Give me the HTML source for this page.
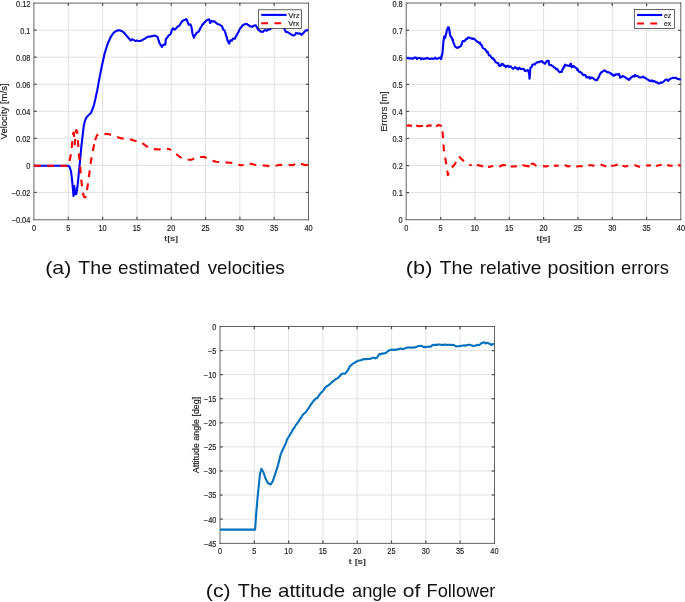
<!DOCTYPE html>
<html><head><meta charset="utf-8"><style>
html,body{margin:0;padding:0;background:#fff;width:685px;height:602px;overflow:hidden}
svg{display:block}
text{font-family:"Liberation Sans",sans-serif}
svg{will-change:transform}
.s{stroke:#1a1a1a;stroke-width:0.16px}
</style></head><body>
<svg width="685" height="602" viewBox="0 0 685 602">
<rect width="685" height="602" fill="#fff"/>
<line x1="68.31" y1="3.10" x2="68.31" y2="219.50" stroke="#e2e2e2" stroke-width="1" />
<line x1="102.62" y1="3.10" x2="102.62" y2="219.50" stroke="#e2e2e2" stroke-width="1" />
<line x1="136.94" y1="3.10" x2="136.94" y2="219.50" stroke="#e2e2e2" stroke-width="1" />
<line x1="171.25" y1="3.10" x2="171.25" y2="219.50" stroke="#e2e2e2" stroke-width="1" />
<line x1="205.56" y1="3.10" x2="205.56" y2="219.50" stroke="#e2e2e2" stroke-width="1" />
<line x1="239.88" y1="3.10" x2="239.88" y2="219.50" stroke="#e2e2e2" stroke-width="1" />
<line x1="274.19" y1="3.10" x2="274.19" y2="219.50" stroke="#e2e2e2" stroke-width="1" />
<line x1="34.00" y1="30.15" x2="308.50" y2="30.15" stroke="#e2e2e2" stroke-width="1" />
<line x1="34.00" y1="57.20" x2="308.50" y2="57.20" stroke="#e2e2e2" stroke-width="1" />
<line x1="34.00" y1="84.25" x2="308.50" y2="84.25" stroke="#e2e2e2" stroke-width="1" />
<line x1="34.00" y1="111.30" x2="308.50" y2="111.30" stroke="#e2e2e2" stroke-width="1" />
<line x1="34.00" y1="138.35" x2="308.50" y2="138.35" stroke="#e2e2e2" stroke-width="1" />
<line x1="34.00" y1="165.40" x2="308.50" y2="165.40" stroke="#e2e2e2" stroke-width="1" />
<line x1="34.00" y1="192.45" x2="308.50" y2="192.45" stroke="#e2e2e2" stroke-width="1" />
<line x1="440.62" y1="3.30" x2="440.62" y2="219.60" stroke="#e2e2e2" stroke-width="1" />
<line x1="474.95" y1="3.30" x2="474.95" y2="219.60" stroke="#e2e2e2" stroke-width="1" />
<line x1="509.27" y1="3.30" x2="509.27" y2="219.60" stroke="#e2e2e2" stroke-width="1" />
<line x1="543.60" y1="3.30" x2="543.60" y2="219.60" stroke="#e2e2e2" stroke-width="1" />
<line x1="577.92" y1="3.30" x2="577.92" y2="219.60" stroke="#e2e2e2" stroke-width="1" />
<line x1="612.25" y1="3.30" x2="612.25" y2="219.60" stroke="#e2e2e2" stroke-width="1" />
<line x1="646.57" y1="3.30" x2="646.57" y2="219.60" stroke="#e2e2e2" stroke-width="1" />
<line x1="406.30" y1="30.34" x2="680.90" y2="30.34" stroke="#e2e2e2" stroke-width="1" />
<line x1="406.30" y1="57.37" x2="680.90" y2="57.37" stroke="#e2e2e2" stroke-width="1" />
<line x1="406.30" y1="84.41" x2="680.90" y2="84.41" stroke="#e2e2e2" stroke-width="1" />
<line x1="406.30" y1="111.45" x2="680.90" y2="111.45" stroke="#e2e2e2" stroke-width="1" />
<line x1="406.30" y1="138.49" x2="680.90" y2="138.49" stroke="#e2e2e2" stroke-width="1" />
<line x1="406.30" y1="165.53" x2="680.90" y2="165.53" stroke="#e2e2e2" stroke-width="1" />
<line x1="406.30" y1="192.56" x2="680.90" y2="192.56" stroke="#e2e2e2" stroke-width="1" />
<line x1="254.30" y1="326.50" x2="254.30" y2="543.20" stroke="#e2e2e2" stroke-width="1" />
<line x1="288.60" y1="326.50" x2="288.60" y2="543.20" stroke="#e2e2e2" stroke-width="1" />
<line x1="322.90" y1="326.50" x2="322.90" y2="543.20" stroke="#e2e2e2" stroke-width="1" />
<line x1="357.20" y1="326.50" x2="357.20" y2="543.20" stroke="#e2e2e2" stroke-width="1" />
<line x1="391.50" y1="326.50" x2="391.50" y2="543.20" stroke="#e2e2e2" stroke-width="1" />
<line x1="425.80" y1="326.50" x2="425.80" y2="543.20" stroke="#e2e2e2" stroke-width="1" />
<line x1="460.10" y1="326.50" x2="460.10" y2="543.20" stroke="#e2e2e2" stroke-width="1" />
<line x1="220.00" y1="350.58" x2="494.40" y2="350.58" stroke="#e2e2e2" stroke-width="1" />
<line x1="220.00" y1="374.66" x2="494.40" y2="374.66" stroke="#e2e2e2" stroke-width="1" />
<line x1="220.00" y1="398.73" x2="494.40" y2="398.73" stroke="#e2e2e2" stroke-width="1" />
<line x1="220.00" y1="422.81" x2="494.40" y2="422.81" stroke="#e2e2e2" stroke-width="1" />
<line x1="220.00" y1="446.89" x2="494.40" y2="446.89" stroke="#e2e2e2" stroke-width="1" />
<line x1="220.00" y1="470.97" x2="494.40" y2="470.97" stroke="#e2e2e2" stroke-width="1" />
<line x1="220.00" y1="495.04" x2="494.40" y2="495.04" stroke="#e2e2e2" stroke-width="1" />
<line x1="220.00" y1="519.12" x2="494.40" y2="519.12" stroke="#e2e2e2" stroke-width="1" />
<path d="M33.90,2.60V220.30M308.45,2.60V220.30M33.40,3.10H308.95M33.40,219.80H308.95" fill="none" stroke="#262626" stroke-width="0.72"/>
<line x1="68.31" y1="219.50" x2="68.31" y2="216.80" stroke="#4a4a4a" stroke-width="1.2" />
<line x1="68.31" y1="3.10" x2="68.31" y2="5.80" stroke="#4a4a4a" stroke-width="1.2" />
<line x1="102.62" y1="219.50" x2="102.62" y2="216.80" stroke="#4a4a4a" stroke-width="1.2" />
<line x1="102.62" y1="3.10" x2="102.62" y2="5.80" stroke="#4a4a4a" stroke-width="1.2" />
<line x1="136.94" y1="219.50" x2="136.94" y2="216.80" stroke="#4a4a4a" stroke-width="1.2" />
<line x1="136.94" y1="3.10" x2="136.94" y2="5.80" stroke="#4a4a4a" stroke-width="1.2" />
<line x1="171.25" y1="219.50" x2="171.25" y2="216.80" stroke="#4a4a4a" stroke-width="1.2" />
<line x1="171.25" y1="3.10" x2="171.25" y2="5.80" stroke="#4a4a4a" stroke-width="1.2" />
<line x1="205.56" y1="219.50" x2="205.56" y2="216.80" stroke="#4a4a4a" stroke-width="1.2" />
<line x1="205.56" y1="3.10" x2="205.56" y2="5.80" stroke="#4a4a4a" stroke-width="1.2" />
<line x1="239.88" y1="219.50" x2="239.88" y2="216.80" stroke="#4a4a4a" stroke-width="1.2" />
<line x1="239.88" y1="3.10" x2="239.88" y2="5.80" stroke="#4a4a4a" stroke-width="1.2" />
<line x1="274.19" y1="219.50" x2="274.19" y2="216.80" stroke="#4a4a4a" stroke-width="1.2" />
<line x1="274.19" y1="3.10" x2="274.19" y2="5.80" stroke="#4a4a4a" stroke-width="1.2" />
<line x1="34.00" y1="30.15" x2="36.70" y2="30.15" stroke="#4a4a4a" stroke-width="1.2" />
<line x1="308.50" y1="30.15" x2="305.80" y2="30.15" stroke="#4a4a4a" stroke-width="1.2" />
<line x1="34.00" y1="57.20" x2="36.70" y2="57.20" stroke="#4a4a4a" stroke-width="1.2" />
<line x1="308.50" y1="57.20" x2="305.80" y2="57.20" stroke="#4a4a4a" stroke-width="1.2" />
<line x1="34.00" y1="84.25" x2="36.70" y2="84.25" stroke="#4a4a4a" stroke-width="1.2" />
<line x1="308.50" y1="84.25" x2="305.80" y2="84.25" stroke="#4a4a4a" stroke-width="1.2" />
<line x1="34.00" y1="111.30" x2="36.70" y2="111.30" stroke="#4a4a4a" stroke-width="1.2" />
<line x1="308.50" y1="111.30" x2="305.80" y2="111.30" stroke="#4a4a4a" stroke-width="1.2" />
<line x1="34.00" y1="138.35" x2="36.70" y2="138.35" stroke="#4a4a4a" stroke-width="1.2" />
<line x1="308.50" y1="138.35" x2="305.80" y2="138.35" stroke="#4a4a4a" stroke-width="1.2" />
<line x1="34.00" y1="165.40" x2="36.70" y2="165.40" stroke="#4a4a4a" stroke-width="1.2" />
<line x1="308.50" y1="165.40" x2="305.80" y2="165.40" stroke="#4a4a4a" stroke-width="1.2" />
<line x1="34.00" y1="192.45" x2="36.70" y2="192.45" stroke="#4a4a4a" stroke-width="1.2" />
<line x1="308.50" y1="192.45" x2="305.80" y2="192.45" stroke="#4a4a4a" stroke-width="1.2" />
<text x="16.11" y="6.52" font-size="8.20" fill="#1a1a1a" textLength="14.36" lengthAdjust="spacingAndGlyphs" class="s">0.12</text>
<text x="20.19" y="33.57" font-size="8.20" fill="#1a1a1a" textLength="10.26" lengthAdjust="spacingAndGlyphs" class="s">0.1</text>
<text x="16.06" y="60.62" font-size="8.20" fill="#1a1a1a" textLength="14.36" lengthAdjust="spacingAndGlyphs" class="s">0.08</text>
<text x="16.06" y="87.67" font-size="8.20" fill="#1a1a1a" textLength="14.36" lengthAdjust="spacingAndGlyphs" class="s">0.06</text>
<text x="15.95" y="114.72" font-size="8.20" fill="#1a1a1a" textLength="14.36" lengthAdjust="spacingAndGlyphs" class="s">0.04</text>
<text x="16.11" y="141.77" font-size="8.20" fill="#1a1a1a" textLength="14.36" lengthAdjust="spacingAndGlyphs" class="s">0.02</text>
<text x="26.28" y="168.82" font-size="8.20" fill="#1a1a1a" textLength="4.10" lengthAdjust="spacingAndGlyphs" class="s">0</text>
<text x="11.80" y="195.87" font-size="8.20" fill="#1a1a1a" textLength="18.67" lengthAdjust="spacingAndGlyphs" class="s">−0.02</text>
<text x="11.63" y="222.92" font-size="8.20" fill="#1a1a1a" textLength="18.67" lengthAdjust="spacingAndGlyphs" class="s">−0.04</text>
<text x="31.94" y="230.87" font-size="8.20" fill="#1a1a1a" textLength="4.10" lengthAdjust="spacingAndGlyphs" class="s">0</text>
<text x="66.26" y="230.83" font-size="8.20" fill="#1a1a1a" textLength="4.10" lengthAdjust="spacingAndGlyphs" class="s">5</text>
<text x="98.39" y="230.87" font-size="8.20" fill="#1a1a1a" textLength="8.21" lengthAdjust="spacingAndGlyphs" class="s">10</text>
<text x="132.71" y="230.83" font-size="8.20" fill="#1a1a1a" textLength="8.21" lengthAdjust="spacingAndGlyphs" class="s">15</text>
<text x="167.11" y="230.87" font-size="8.20" fill="#1a1a1a" textLength="8.21" lengthAdjust="spacingAndGlyphs" class="s">20</text>
<text x="201.43" y="230.87" font-size="8.20" fill="#1a1a1a" textLength="8.21" lengthAdjust="spacingAndGlyphs" class="s">25</text>
<text x="235.78" y="230.87" font-size="8.20" fill="#1a1a1a" textLength="8.21" lengthAdjust="spacingAndGlyphs" class="s">30</text>
<text x="270.10" y="230.87" font-size="8.20" fill="#1a1a1a" textLength="8.21" lengthAdjust="spacingAndGlyphs" class="s">35</text>
<text x="304.46" y="230.87" font-size="8.20" fill="#1a1a1a" textLength="8.21" lengthAdjust="spacingAndGlyphs" class="s">40</text>
<path d="M406.20,2.50V220.20M680.80,2.50V220.20M405.70,3.00H681.30M405.70,219.70H681.30" fill="none" stroke="#262626" stroke-width="0.72"/>
<line x1="440.62" y1="219.60" x2="440.62" y2="216.90" stroke="#4a4a4a" stroke-width="1.2" />
<line x1="440.62" y1="3.30" x2="440.62" y2="6.00" stroke="#4a4a4a" stroke-width="1.2" />
<line x1="474.95" y1="219.60" x2="474.95" y2="216.90" stroke="#4a4a4a" stroke-width="1.2" />
<line x1="474.95" y1="3.30" x2="474.95" y2="6.00" stroke="#4a4a4a" stroke-width="1.2" />
<line x1="509.27" y1="219.60" x2="509.27" y2="216.90" stroke="#4a4a4a" stroke-width="1.2" />
<line x1="509.27" y1="3.30" x2="509.27" y2="6.00" stroke="#4a4a4a" stroke-width="1.2" />
<line x1="543.60" y1="219.60" x2="543.60" y2="216.90" stroke="#4a4a4a" stroke-width="1.2" />
<line x1="543.60" y1="3.30" x2="543.60" y2="6.00" stroke="#4a4a4a" stroke-width="1.2" />
<line x1="577.92" y1="219.60" x2="577.92" y2="216.90" stroke="#4a4a4a" stroke-width="1.2" />
<line x1="577.92" y1="3.30" x2="577.92" y2="6.00" stroke="#4a4a4a" stroke-width="1.2" />
<line x1="612.25" y1="219.60" x2="612.25" y2="216.90" stroke="#4a4a4a" stroke-width="1.2" />
<line x1="612.25" y1="3.30" x2="612.25" y2="6.00" stroke="#4a4a4a" stroke-width="1.2" />
<line x1="646.57" y1="219.60" x2="646.57" y2="216.90" stroke="#4a4a4a" stroke-width="1.2" />
<line x1="646.57" y1="3.30" x2="646.57" y2="6.00" stroke="#4a4a4a" stroke-width="1.2" />
<line x1="406.30" y1="30.34" x2="409.00" y2="30.34" stroke="#4a4a4a" stroke-width="1.2" />
<line x1="680.90" y1="30.34" x2="678.20" y2="30.34" stroke="#4a4a4a" stroke-width="1.2" />
<line x1="406.30" y1="57.37" x2="409.00" y2="57.37" stroke="#4a4a4a" stroke-width="1.2" />
<line x1="680.90" y1="57.37" x2="678.20" y2="57.37" stroke="#4a4a4a" stroke-width="1.2" />
<line x1="406.30" y1="84.41" x2="409.00" y2="84.41" stroke="#4a4a4a" stroke-width="1.2" />
<line x1="680.90" y1="84.41" x2="678.20" y2="84.41" stroke="#4a4a4a" stroke-width="1.2" />
<line x1="406.30" y1="111.45" x2="409.00" y2="111.45" stroke="#4a4a4a" stroke-width="1.2" />
<line x1="680.90" y1="111.45" x2="678.20" y2="111.45" stroke="#4a4a4a" stroke-width="1.2" />
<line x1="406.30" y1="138.49" x2="409.00" y2="138.49" stroke="#4a4a4a" stroke-width="1.2" />
<line x1="680.90" y1="138.49" x2="678.20" y2="138.49" stroke="#4a4a4a" stroke-width="1.2" />
<line x1="406.30" y1="165.53" x2="409.00" y2="165.53" stroke="#4a4a4a" stroke-width="1.2" />
<line x1="680.90" y1="165.53" x2="678.20" y2="165.53" stroke="#4a4a4a" stroke-width="1.2" />
<line x1="406.30" y1="192.56" x2="409.00" y2="192.56" stroke="#4a4a4a" stroke-width="1.2" />
<line x1="680.90" y1="192.56" x2="678.20" y2="192.56" stroke="#4a4a4a" stroke-width="1.2" />
<text x="392.46" y="6.72" font-size="8.20" fill="#1a1a1a" textLength="10.26" lengthAdjust="spacingAndGlyphs" class="s">0.8</text>
<text x="392.51" y="33.76" font-size="8.20" fill="#1a1a1a" textLength="10.26" lengthAdjust="spacingAndGlyphs" class="s">0.7</text>
<text x="392.46" y="60.79" font-size="8.20" fill="#1a1a1a" textLength="10.26" lengthAdjust="spacingAndGlyphs" class="s">0.6</text>
<text x="392.44" y="87.83" font-size="8.20" fill="#1a1a1a" textLength="10.26" lengthAdjust="spacingAndGlyphs" class="s">0.5</text>
<text x="392.34" y="114.87" font-size="8.20" fill="#1a1a1a" textLength="10.26" lengthAdjust="spacingAndGlyphs" class="s">0.4</text>
<text x="392.46" y="141.91" font-size="8.20" fill="#1a1a1a" textLength="10.26" lengthAdjust="spacingAndGlyphs" class="s">0.3</text>
<text x="392.51" y="168.94" font-size="8.20" fill="#1a1a1a" textLength="10.26" lengthAdjust="spacingAndGlyphs" class="s">0.2</text>
<text x="392.49" y="195.98" font-size="8.20" fill="#1a1a1a" textLength="10.26" lengthAdjust="spacingAndGlyphs" class="s">0.1</text>
<text x="398.58" y="223.02" font-size="8.20" fill="#1a1a1a" textLength="4.10" lengthAdjust="spacingAndGlyphs" class="s">0</text>
<text x="404.24" y="230.87" font-size="8.20" fill="#1a1a1a" textLength="4.10" lengthAdjust="spacingAndGlyphs" class="s">0</text>
<text x="438.58" y="230.83" font-size="8.20" fill="#1a1a1a" textLength="4.10" lengthAdjust="spacingAndGlyphs" class="s">5</text>
<text x="470.72" y="230.87" font-size="8.20" fill="#1a1a1a" textLength="8.21" lengthAdjust="spacingAndGlyphs" class="s">10</text>
<text x="505.05" y="230.83" font-size="8.20" fill="#1a1a1a" textLength="8.21" lengthAdjust="spacingAndGlyphs" class="s">15</text>
<text x="539.46" y="230.87" font-size="8.20" fill="#1a1a1a" textLength="8.21" lengthAdjust="spacingAndGlyphs" class="s">20</text>
<text x="573.79" y="230.87" font-size="8.20" fill="#1a1a1a" textLength="8.21" lengthAdjust="spacingAndGlyphs" class="s">25</text>
<text x="608.15" y="230.87" font-size="8.20" fill="#1a1a1a" textLength="8.21" lengthAdjust="spacingAndGlyphs" class="s">30</text>
<text x="642.49" y="230.87" font-size="8.20" fill="#1a1a1a" textLength="8.21" lengthAdjust="spacingAndGlyphs" class="s">35</text>
<text x="676.86" y="230.87" font-size="8.20" fill="#1a1a1a" textLength="8.21" lengthAdjust="spacingAndGlyphs" class="s">40</text>
<path d="M220.00,326.00V543.90M494.50,326.00V543.90M219.50,326.50H495.00M219.50,543.40H495.00" fill="none" stroke="#262626" stroke-width="0.72"/>
<line x1="254.30" y1="543.20" x2="254.30" y2="540.50" stroke="#4a4a4a" stroke-width="1.2" />
<line x1="254.30" y1="326.50" x2="254.30" y2="329.20" stroke="#4a4a4a" stroke-width="1.2" />
<line x1="288.60" y1="543.20" x2="288.60" y2="540.50" stroke="#4a4a4a" stroke-width="1.2" />
<line x1="288.60" y1="326.50" x2="288.60" y2="329.20" stroke="#4a4a4a" stroke-width="1.2" />
<line x1="322.90" y1="543.20" x2="322.90" y2="540.50" stroke="#4a4a4a" stroke-width="1.2" />
<line x1="322.90" y1="326.50" x2="322.90" y2="329.20" stroke="#4a4a4a" stroke-width="1.2" />
<line x1="357.20" y1="543.20" x2="357.20" y2="540.50" stroke="#4a4a4a" stroke-width="1.2" />
<line x1="357.20" y1="326.50" x2="357.20" y2="329.20" stroke="#4a4a4a" stroke-width="1.2" />
<line x1="391.50" y1="543.20" x2="391.50" y2="540.50" stroke="#4a4a4a" stroke-width="1.2" />
<line x1="391.50" y1="326.50" x2="391.50" y2="329.20" stroke="#4a4a4a" stroke-width="1.2" />
<line x1="425.80" y1="543.20" x2="425.80" y2="540.50" stroke="#4a4a4a" stroke-width="1.2" />
<line x1="425.80" y1="326.50" x2="425.80" y2="329.20" stroke="#4a4a4a" stroke-width="1.2" />
<line x1="460.10" y1="543.20" x2="460.10" y2="540.50" stroke="#4a4a4a" stroke-width="1.2" />
<line x1="460.10" y1="326.50" x2="460.10" y2="329.20" stroke="#4a4a4a" stroke-width="1.2" />
<line x1="220.00" y1="350.58" x2="222.70" y2="350.58" stroke="#4a4a4a" stroke-width="1.2" />
<line x1="494.40" y1="350.58" x2="491.70" y2="350.58" stroke="#4a4a4a" stroke-width="1.2" />
<line x1="220.00" y1="374.66" x2="222.70" y2="374.66" stroke="#4a4a4a" stroke-width="1.2" />
<line x1="494.40" y1="374.66" x2="491.70" y2="374.66" stroke="#4a4a4a" stroke-width="1.2" />
<line x1="220.00" y1="398.73" x2="222.70" y2="398.73" stroke="#4a4a4a" stroke-width="1.2" />
<line x1="494.40" y1="398.73" x2="491.70" y2="398.73" stroke="#4a4a4a" stroke-width="1.2" />
<line x1="220.00" y1="422.81" x2="222.70" y2="422.81" stroke="#4a4a4a" stroke-width="1.2" />
<line x1="494.40" y1="422.81" x2="491.70" y2="422.81" stroke="#4a4a4a" stroke-width="1.2" />
<line x1="220.00" y1="446.89" x2="222.70" y2="446.89" stroke="#4a4a4a" stroke-width="1.2" />
<line x1="494.40" y1="446.89" x2="491.70" y2="446.89" stroke="#4a4a4a" stroke-width="1.2" />
<line x1="220.00" y1="470.97" x2="222.70" y2="470.97" stroke="#4a4a4a" stroke-width="1.2" />
<line x1="494.40" y1="470.97" x2="491.70" y2="470.97" stroke="#4a4a4a" stroke-width="1.2" />
<line x1="220.00" y1="495.04" x2="222.70" y2="495.04" stroke="#4a4a4a" stroke-width="1.2" />
<line x1="494.40" y1="495.04" x2="491.70" y2="495.04" stroke="#4a4a4a" stroke-width="1.2" />
<line x1="220.00" y1="519.12" x2="222.70" y2="519.12" stroke="#4a4a4a" stroke-width="1.2" />
<line x1="494.40" y1="519.12" x2="491.70" y2="519.12" stroke="#4a4a4a" stroke-width="1.2" />
<text x="212.28" y="329.92" font-size="8.20" fill="#1a1a1a" textLength="4.10" lengthAdjust="spacingAndGlyphs" class="s">0</text>
<text x="207.98" y="353.96" font-size="8.20" fill="#1a1a1a" textLength="8.41" lengthAdjust="spacingAndGlyphs" class="s">−5</text>
<text x="203.87" y="378.07" font-size="8.20" fill="#1a1a1a" textLength="12.52" lengthAdjust="spacingAndGlyphs" class="s">−10</text>
<text x="203.89" y="402.11" font-size="8.20" fill="#1a1a1a" textLength="12.52" lengthAdjust="spacingAndGlyphs" class="s">−15</text>
<text x="203.87" y="426.23" font-size="8.20" fill="#1a1a1a" textLength="12.52" lengthAdjust="spacingAndGlyphs" class="s">−20</text>
<text x="203.89" y="450.31" font-size="8.20" fill="#1a1a1a" textLength="12.52" lengthAdjust="spacingAndGlyphs" class="s">−25</text>
<text x="203.87" y="474.39" font-size="8.20" fill="#1a1a1a" textLength="12.52" lengthAdjust="spacingAndGlyphs" class="s">−30</text>
<text x="203.89" y="498.46" font-size="8.20" fill="#1a1a1a" textLength="12.52" lengthAdjust="spacingAndGlyphs" class="s">−35</text>
<text x="203.87" y="522.54" font-size="8.20" fill="#1a1a1a" textLength="12.52" lengthAdjust="spacingAndGlyphs" class="s">−40</text>
<text x="203.89" y="546.58" font-size="8.20" fill="#1a1a1a" textLength="12.52" lengthAdjust="spacingAndGlyphs" class="s">−45</text>
<text x="217.94" y="554.12" font-size="8.20" fill="#1a1a1a" textLength="4.10" lengthAdjust="spacingAndGlyphs" class="s">0</text>
<text x="252.25" y="554.08" font-size="8.20" fill="#1a1a1a" textLength="4.10" lengthAdjust="spacingAndGlyphs" class="s">5</text>
<text x="284.37" y="554.12" font-size="8.20" fill="#1a1a1a" textLength="8.21" lengthAdjust="spacingAndGlyphs" class="s">10</text>
<text x="318.67" y="554.08" font-size="8.20" fill="#1a1a1a" textLength="8.21" lengthAdjust="spacingAndGlyphs" class="s">15</text>
<text x="353.06" y="554.12" font-size="8.20" fill="#1a1a1a" textLength="8.21" lengthAdjust="spacingAndGlyphs" class="s">20</text>
<text x="387.37" y="554.12" font-size="8.20" fill="#1a1a1a" textLength="8.21" lengthAdjust="spacingAndGlyphs" class="s">25</text>
<text x="421.70" y="554.12" font-size="8.20" fill="#1a1a1a" textLength="8.21" lengthAdjust="spacingAndGlyphs" class="s">30</text>
<text x="456.01" y="554.12" font-size="8.20" fill="#1a1a1a" textLength="8.21" lengthAdjust="spacingAndGlyphs" class="s">35</text>
<text x="490.36" y="554.12" font-size="8.20" fill="#1a1a1a" textLength="8.21" lengthAdjust="spacingAndGlyphs" class="s">40</text>
<polyline points="34.00,165.80 35.02,165.80 36.04,165.80 37.06,165.80 38.08,165.80 39.10,165.80 40.12,165.80 41.14,165.80 42.16,165.80 43.19,165.80 44.21,165.80 45.23,165.80 46.25,165.80 47.27,165.80 48.29,165.80 49.31,165.80 50.33,165.80 51.35,165.80 52.37,165.80 53.39,165.80 54.41,165.80 55.43,165.80 56.45,165.80 57.47,165.80 58.49,165.80 59.51,165.80 60.54,165.80 61.56,165.80 62.58,165.80 63.60,165.80 64.62,165.80 65.64,165.80 66.66,165.80 67.68,165.80 68.70,165.80 69.70,167.30 70.03,168.30 70.35,169.30 70.67,170.30 71.00,171.30 71.14,172.36 71.28,173.42 71.42,174.48 71.56,175.54 71.70,176.60 71.80,177.60 71.90,178.60 72.00,179.60 72.10,180.60 72.20,181.60 72.30,182.60 72.40,183.60 72.50,184.60 72.60,185.60 72.70,186.60 72.79,187.64 72.88,188.69 72.97,189.73 73.06,190.78 73.14,191.82 73.23,192.87 73.32,193.91 73.41,194.96 73.50,196.00 73.58,195.00 73.66,194.00 73.74,193.00 73.82,192.00 73.90,191.00 73.98,190.00 74.06,189.00 74.14,188.00 74.22,187.00 74.30,186.00 74.42,187.04 74.55,188.07 74.67,189.11 74.80,190.15 74.92,191.19 75.05,192.23 75.17,193.26 75.30,194.30 76.30,194.00 76.47,193.00 76.63,192.00 76.80,191.00 76.97,190.00 77.13,189.00 77.30,188.00 77.41,186.96 77.52,185.91 77.63,184.87 77.74,183.82 77.86,182.78 77.97,181.73 78.08,180.69 78.19,179.64 78.30,178.60 78.40,177.54 78.50,176.48 78.60,175.42 78.70,174.36 78.80,173.30 78.90,172.24 79.00,171.18 79.10,170.12 79.20,169.06 79.30,168.00 79.42,166.88 79.53,165.77 79.65,164.65 79.77,163.53 79.88,162.42 80.00,161.30 80.09,160.28 80.19,159.26 80.28,158.24 80.37,157.21 80.46,156.19 80.56,155.17 80.65,154.15 80.74,153.13 80.84,152.11 80.93,151.09 81.02,150.06 81.11,149.04 81.21,148.02 81.30,147.00 81.42,146.00 81.53,145.00 81.65,144.00 81.77,143.00 81.88,142.00 82.00,141.00 82.12,140.00 82.23,139.00 82.35,138.00 82.47,137.00 82.58,136.00 82.70,135.00 82.83,133.91 82.95,132.82 83.08,131.74 83.20,130.65 83.33,129.56 83.45,128.47 83.58,127.39 83.70,126.30 83.95,125.12 84.20,123.95 84.45,122.77 84.70,121.60 85.10,120.60 85.50,119.60 85.90,118.60 86.30,117.60 87.10,116.73 87.90,115.87 88.70,115.00 89.47,114.33 90.23,113.67 91.00,113.00 91.43,111.87 91.87,110.73 92.30,109.60 92.72,108.45 93.15,107.30 93.58,106.15 94.00,105.00 94.24,103.94 94.48,102.88 94.72,101.82 94.96,100.76 95.20,99.70 95.44,98.61 95.67,97.53 95.91,96.44 96.15,95.35 96.39,94.26 96.62,93.17 96.86,92.09 97.10,91.00 97.29,89.95 97.48,88.89 97.68,87.84 97.87,86.78 98.06,85.73 98.25,84.68 98.45,83.62 98.64,82.57 98.83,81.52 99.02,80.46 99.22,79.41 99.41,78.35 99.60,77.30 99.81,76.27 100.02,75.23 100.22,74.20 100.43,73.17 100.64,72.13 100.85,71.10 101.06,70.07 101.27,69.03 101.47,68.00 101.68,66.97 101.89,65.93 102.10,64.90 102.33,63.87 102.55,62.85 102.78,61.82 103.01,60.79 103.24,59.76 103.46,58.74 103.69,57.71 103.92,56.68 104.15,55.65 104.37,54.63 104.60,53.60 104.91,52.61 105.22,51.62 105.53,50.63 105.84,49.64 106.15,48.65 106.46,47.66 106.77,46.67 107.08,45.68 107.39,44.69 107.70,43.70 108.14,42.71 108.59,41.73 109.03,40.74 109.47,39.76 109.91,38.77 110.36,37.79 110.80,36.80 111.42,35.94 112.04,35.08 112.66,34.22 113.28,33.36 113.90,32.50 114.93,31.87 115.97,31.23 117.00,30.60 118.25,30.40 119.50,30.20 120.75,30.70 122.00,31.20 123.00,31.95 124.00,32.70 124.70,33.52 125.40,34.34 126.10,35.16 126.80,35.98 127.50,36.80 128.32,37.72 129.15,38.65 129.98,39.58 130.80,40.50 132.10,39.20 133.00,39.70 133.90,40.20 134.80,40.70 135.60,40.90 136.72,40.54 137.84,40.81 138.96,41.05 140.08,41.04 141.20,40.50 142.23,40.29 143.27,39.38 144.30,38.80 145.33,38.40 146.35,37.73 147.38,36.91 148.40,36.80 149.43,36.43 150.47,36.62 151.50,36.10 152.50,36.10 153.50,35.86 154.50,35.56 155.50,35.80 156.55,36.42 157.60,37.10 157.90,37.95 158.20,39.15 158.50,40.31 158.80,40.50 159.10,42.20 159.63,43.21 160.17,43.83 160.70,45.30 161.30,45.87 161.90,47.00 162.70,45.30 164.00,44.63 165.30,44.70 165.40,44.01 165.50,42.86 165.60,41.79 165.70,40.40 165.80,39.60 166.55,38.17 167.30,37.60 167.80,36.59 168.30,35.80 169.50,34.96 170.70,34.00 171.00,32.95 171.30,32.15 171.60,30.82 171.90,29.90 172.90,28.20 173.95,29.34 175.00,29.40 176.00,28.50 177.00,27.20 178.50,26.10 179.30,25.79 180.10,24.30 180.77,23.41 181.43,22.30 182.10,21.40 183.15,20.45 184.20,20.00 185.35,19.74 186.50,19.00 186.90,20.35 187.30,21.11 187.70,22.10 188.25,23.57 188.80,24.80 190.30,24.30 190.80,25.27 191.30,26.40 191.47,27.29 191.64,28.34 191.81,28.88 191.99,30.15 192.16,31.48 192.33,32.52 192.50,33.50 192.85,34.85 193.20,35.74 193.55,36.70 193.90,37.60 194.40,36.75 194.90,35.19 195.40,35.00 195.95,34.06 196.50,33.10 197.55,32.18 198.60,31.80 199.10,30.99 199.60,29.79 200.10,28.82 200.60,27.80 201.10,27.00 201.72,26.03 202.34,24.65 202.96,23.88 203.58,23.84 204.20,22.60 205.07,21.96 205.93,20.93 206.80,20.30 207.95,19.69 209.10,19.30 209.50,20.39 209.90,22.67 210.30,22.90 210.80,22.00 211.30,20.80 212.33,21.20 213.35,21.40 214.38,21.29 215.40,22.40 216.43,22.98 217.45,23.91 218.47,24.33 219.50,24.60 220.65,25.38 221.80,26.00 222.23,26.98 222.67,27.98 223.10,29.50 224.60,30.50 224.92,31.56 225.24,32.45 225.56,33.28 225.88,35.15 226.20,35.70 226.50,36.44 226.80,37.57 227.10,38.04 227.40,40.29 227.70,40.80 228.20,41.68 228.70,42.64 229.20,43.60 229.57,42.58 229.93,41.14 230.30,40.30 231.80,40.80 232.40,39.46 233.00,38.50 234.90,38.70 235.40,37.76 235.90,36.40 236.40,35.72 236.90,34.60 237.42,33.94 237.93,32.79 238.45,31.97 238.97,30.85 239.48,30.03 240.00,28.50 240.75,27.76 241.50,26.97 242.25,25.70 243.00,25.20 244.30,24.49 245.60,23.90 246.60,24.03 247.60,24.60 248.47,25.21 249.33,25.55 250.20,26.50 251.20,26.43 252.20,26.93 253.20,26.00 254.50,25.46 255.80,25.40 256.60,26.80 257.27,28.04 257.93,29.12 258.60,30.00 259.60,30.58 260.60,31.60 261.80,31.66 263.00,31.90 264.00,30.79 265.00,30.00 266.00,30.43 267.00,30.60 268.25,29.71 269.50,29.20 270.33,29.24 271.17,27.99 272.00,27.00 273.00,26.71 274.00,26.39 275.00,25.53 276.00,24.50 277.00,24.71 278.00,25.11 279.00,25.26 280.00,25.50 280.86,26.22 281.72,27.07 282.58,26.82 283.44,27.56 284.30,28.70 284.83,29.67 285.37,30.96 285.90,31.90 287.10,32.00 288.30,32.50 289.50,33.30 290.75,34.04 292.00,34.90 293.20,35.43 294.40,35.30 295.20,34.30 296.00,32.90 297.00,33.31 298.00,33.80 299.60,33.30 300.60,34.00 301.60,34.90 302.40,33.65 303.20,33.30 303.87,32.61 304.53,31.66 305.20,30.80 306.60,30.31 308.00,30.40" fill="none" stroke="#0000ff" stroke-width="2.1" stroke-linejoin="round" stroke-linecap="butt"/>
<polyline points="34.00,165.80 68.70,165.80 69.70,160.20 71.30,152.50 72.00,145.00 72.60,138.00 73.20,133.20 73.80,132.60 74.30,138.00 74.70,144.50 75.20,140.00 75.70,132.50 76.30,130.00 77.20,131.50 77.80,138.00 78.40,148.50 79.20,157.50 80.00,163.00 80.60,172.00 81.50,182.00 82.50,190.00 83.50,195.50 84.60,197.50 86.00,196.50 87.30,188.00 88.30,181.00 89.50,172.00 90.80,162.00 92.60,152.00 94.80,141.30" fill="none" stroke="#ff0000" stroke-width="2.1" stroke-linejoin="round" stroke-dasharray="6.8 6.4" stroke-dashoffset="0.00"/>
<polyline points="94.80,141.30 96.80,135.50 98.50,134.10 102.00,133.40 109.00,134.30 114.90,136.30 121.90,138.40 128.30,138.70 134.70,140.80 140.60,141.70 146.40,146.30 151.60,149.00 158.70,149.50 162.70,148.70 169.20,149.00" fill="none" stroke="#ff0000" stroke-width="2.1" stroke-linejoin="round" stroke-dasharray="6.8 6.4" stroke-dashoffset="12.07"/>
<polyline points="169.20,149.00 173.80,152.00 179.90,157.00 185.30,159.70 191.90,159.70 195.70,157.30 199.00,157.00 204.50,157.00 209.40,159.70 216.00,161.70 222.60,162.20 229.70,162.70 235.70,163.20 240.10,165.40" fill="none" stroke="#ff0000" stroke-width="2.1" stroke-linejoin="round" stroke-dasharray="6.8 6.4" stroke-dashoffset="4.65"/>
<polyline points="240.10,165.40 242.00,165.30 247.20,163.00 254.80,164.80 260.40,165.30 267.60,165.80 270.70,166.90 273.20,166.30 280.40,164.80 286.50,165.00 293.10,165.10 295.70,163.30 298.80,163.00 305.40,165.30 308.30,164.30" fill="none" stroke="#ff0000" stroke-width="2.1" stroke-linejoin="round" stroke-dasharray="6.8 6.4" stroke-dashoffset="3.14"/>
<polyline points="406.60,58.30 407.90,57.93 409.20,58.48 410.50,58.17 411.80,58.59 413.10,58.63 414.40,57.62 415.70,57.52 416.35,57.68 417.00,59.01 418.30,57.97 419.60,57.92 420.25,58.03 420.90,59.29 422.20,58.35 423.50,59.01 424.80,58.36 426.10,58.65 427.40,57.77 428.70,58.64 430.00,59.06 431.30,58.44 432.60,58.83 433.90,58.71 435.20,57.62 435.85,58.57 436.50,58.86 437.80,58.56 439.10,58.04 440.40,57.56 441.00,59.06 441.40,57.90 441.65,55.73 441.90,55.78 442.15,53.70 442.40,53.80 442.48,53.41 442.55,52.02 442.63,51.66 442.71,49.79 442.78,49.31 442.86,48.03 442.94,46.86 443.02,46.36 443.09,44.73 443.17,44.24 443.25,43.83 443.32,42.57 443.40,41.60 443.54,40.37 443.68,40.65 443.82,38.57 443.96,37.23 444.10,36.50 445.00,38.00 445.25,37.18 445.50,35.94 445.75,35.11 446.00,34.40 446.20,33.20 446.40,33.36 446.60,31.34 446.80,30.30 447.20,29.39 447.60,28.64 448.00,27.30 449.00,27.80 449.16,29.82 449.31,29.72 449.47,30.53 449.63,33.09 449.79,32.14 449.94,33.70 450.10,34.90 450.60,36.28 451.10,37.00 452.10,38.00 452.40,40.16 452.70,39.57 453.00,39.85 453.30,42.41 453.60,43.10 454.00,43.74 454.40,44.71 454.80,46.03 455.20,46.70 456.03,47.21 456.87,47.65 457.70,47.90 458.75,47.08 459.80,46.70 460.55,46.39 461.30,44.80 461.68,44.63 462.05,42.97 462.43,41.80 462.80,41.10 464.40,41.10 465.15,40.42 465.90,39.00 466.50,39.30 467.20,38.94 467.90,37.58 468.60,37.50 469.85,37.67 471.10,38.30 472.13,38.99 473.17,38.59 474.20,38.80 474.87,39.30 475.53,40.24 476.20,40.80 477.25,41.58 478.30,42.40 479.05,42.90 479.80,42.43 480.55,44.77 481.30,44.40 481.70,45.40 482.10,45.76 482.50,47.59 482.90,48.00 483.73,48.65 484.57,49.01 485.40,49.50 486.10,50.72 486.80,52.03 487.50,51.60 488.00,52.75 488.50,54.14 489.00,55.30 489.50,55.10 490.20,55.46 490.90,56.57 491.60,57.70 492.35,58.74 493.10,58.15 493.85,59.52 494.60,60.30 495.38,61.70 496.15,62.32 496.93,62.84 497.70,63.30 498.35,63.00 499.00,65.78 499.65,65.53 500.30,65.90 501.05,65.23 501.80,63.80 502.63,64.75 503.47,64.34 504.30,65.90 505.10,65.78 505.90,67.10 506.90,65.79 507.90,65.70 508.95,67.01 510.00,66.40 510.75,66.56 511.50,67.43 512.25,68.00 513.00,68.70 514.05,68.19 515.10,67.10 515.85,67.95 516.60,68.43 517.35,68.27 518.10,69.50 519.40,67.63 520.70,68.90 521.73,68.98 522.77,69.03 523.80,68.90 524.55,70.57 525.30,71.00 526.55,70.45 527.80,70.00 528.17,70.53 528.53,71.87 528.90,72.50 529.02,72.74 529.13,74.01 529.25,75.05 529.37,76.71 529.48,78.63 529.60,78.60 529.67,78.01 529.75,77.23 529.82,75.80 529.89,74.85 529.96,73.51 530.04,72.62 530.11,70.58 530.18,70.22 530.25,69.20 530.33,69.29 530.40,67.90 530.90,67.48 531.40,66.97 531.90,66.43 532.40,64.90 533.25,64.30 534.10,64.53 534.95,64.53 535.80,63.10 537.00,62.50 538.20,61.90 539.17,62.28 540.13,61.48 541.10,61.40 541.92,61.05 542.74,62.38 543.56,62.37 544.38,63.29 545.20,63.70 545.77,62.50 546.33,61.93 546.90,60.80 548.50,60.80 548.70,60.76 548.90,63.89 549.10,64.55 549.30,64.90 550.27,65.02 551.23,65.05 552.20,65.80 553.17,66.47 554.13,67.47 555.10,67.80 555.80,68.71 556.50,69.40 557.20,68.92 557.90,70.03 558.60,71.30 559.67,72.17 560.73,71.82 561.80,71.90 562.17,70.26 562.55,69.72 562.92,68.55 563.30,68.40 563.72,66.94 564.15,67.09 564.58,65.44 565.00,64.60 566.20,65.57 567.40,65.40 568.55,65.79 569.70,66.00 570.30,64.09 570.90,63.70 571.12,64.25 571.35,66.61 571.57,65.94 571.80,67.20 572.80,66.07 573.80,66.00 574.52,67.23 575.25,67.25 575.98,67.80 576.70,68.40 577.30,70.02 577.90,69.25 578.50,71.24 579.10,71.90 579.98,71.94 580.85,72.34 581.73,73.21 582.60,74.20 583.37,75.27 584.13,75.09 584.90,74.71 585.67,75.57 586.43,77.39 587.20,77.10 588.23,77.72 589.25,76.74 590.27,78.64 591.30,77.50 592.10,77.78 592.90,77.82 593.70,78.90 594.57,79.20 595.43,80.11 596.30,80.00 596.95,80.10 597.60,79.08 598.25,77.61 598.90,77.10 599.35,75.79 599.80,74.31 600.25,73.99 600.70,73.00 601.47,72.13 602.23,71.99 603.00,71.30 603.90,70.35 604.80,70.70 605.57,71.00 606.33,71.38 607.10,72.40 608.02,72.11 608.95,72.44 609.88,72.85 610.80,73.70 611.55,73.62 612.30,75.04 613.05,75.33 613.80,75.80 614.57,74.62 615.33,75.06 616.10,74.30 617.07,74.31 618.03,74.78 619.00,73.90 619.30,74.78 619.60,75.74 619.90,76.47 620.20,77.80 620.97,77.26 621.73,76.85 622.50,76.00 623.47,76.56 624.43,76.80 625.40,77.40 626.27,78.29 627.15,78.65 628.02,79.33 628.90,79.80 629.65,78.67 630.40,78.61 631.15,77.34 631.90,77.20 632.70,76.19 633.50,76.13 634.30,76.55 635.10,74.90 636.05,75.93 637.00,75.95 637.95,76.38 638.90,77.00 639.92,77.41 640.95,77.51 641.98,77.32 643.00,76.60 643.88,77.08 644.75,77.85 645.62,78.16 646.50,78.90 647.47,79.42 648.43,79.80 649.40,80.90 650.57,81.01 651.73,80.27 652.90,81.60 654.05,80.99 655.20,81.60 656.17,82.38 657.13,82.26 658.10,83.30 659.27,83.48 660.43,82.44 661.60,83.00 662.40,82.24 663.20,82.07 664.00,81.30 664.97,80.17 665.93,79.73 666.90,79.50 668.05,80.91 669.20,79.80 670.20,78.88 671.20,78.31 672.20,78.10 673.20,77.73 674.20,77.97 675.20,77.86 676.20,77.80 677.40,78.90 678.60,79.00 679.65,79.41 680.70,79.00" fill="none" stroke="#0000ff" stroke-width="2.1" stroke-linejoin="round" stroke-linecap="butt"/>
<polyline points="441.50,126.00 442.60,132.50 443.80,148.90 445.50,159.40 446.70,166.40 447.90,175.10 451.40,168.10 454.90,164.10 459.00,156.50 461.90,159.40 466.60,163.50 470.10,165.00 471.80,165.20" fill="none" stroke="#ff0000" stroke-width="2.1" stroke-linejoin="round" stroke-dasharray="6.8 6.4" stroke-dashoffset="7.8"/>
<polyline points="406.60,125.80 409.00,125.40 412.00,125.90" fill="none" stroke="#ff0000" stroke-width="2.1" stroke-linejoin="round"/>
<polyline points="416.20,125.60 419.50,126.30 423.00,125.80" fill="none" stroke="#ff0000" stroke-width="2.1" stroke-linejoin="round"/>
<polyline points="426.20,126.60 428.50,125.40 431.60,125.60" fill="none" stroke="#ff0000" stroke-width="2.1" stroke-linejoin="round"/>
<polyline points="436.10,126.30 438.50,125.00 441.90,126.00" fill="none" stroke="#ff0000" stroke-width="2.1" stroke-linejoin="round"/>
<polyline points="476.80,165.00 480.00,165.60 483.10,166.50" fill="none" stroke="#ff0000" stroke-width="2.1" stroke-linejoin="round"/>
<polyline points="488.00,167.00 490.50,166.60 493.20,165.90" fill="none" stroke="#ff0000" stroke-width="2.1" stroke-linejoin="round"/>
<polyline points="499.30,166.80 502.80,165.00 505.90,165.30" fill="none" stroke="#ff0000" stroke-width="2.1" stroke-linejoin="round"/>
<polyline points="510.70,166.50 513.80,166.50 516.80,166.10" fill="none" stroke="#ff0000" stroke-width="2.1" stroke-linejoin="round"/>
<polyline points="522.50,165.00 526.00,165.90 529.60,166.40" fill="none" stroke="#ff0000" stroke-width="2.1" stroke-linejoin="round"/>
<polyline points="530.70,163.70 533.30,163.70 536.40,166.00" fill="none" stroke="#ff0000" stroke-width="2.1" stroke-linejoin="round"/>
<polyline points="543.00,166.10 546.00,166.50 548.60,165.70" fill="none" stroke="#ff0000" stroke-width="2.1" stroke-linejoin="round"/>
<polyline points="553.90,165.90 556.30,165.60 558.70,165.70" fill="none" stroke="#ff0000" stroke-width="2.1" stroke-linejoin="round"/>
<polyline points="564.80,165.00 567.90,166.50 570.50,165.90" fill="none" stroke="#ff0000" stroke-width="2.1" stroke-linejoin="round"/>
<polyline points="576.20,166.50 579.50,166.30 582.60,166.30" fill="none" stroke="#ff0000" stroke-width="2.1" stroke-linejoin="round"/>
<polyline points="588.30,165.20 591.40,165.30 594.40,165.90" fill="none" stroke="#ff0000" stroke-width="2.1" stroke-linejoin="round"/>
<polyline points="600.60,164.60 603.50,165.60 606.30,166.50" fill="none" stroke="#ff0000" stroke-width="2.1" stroke-linejoin="round"/>
<polyline points="611.10,165.70 614.50,165.50 617.70,164.60" fill="none" stroke="#ff0000" stroke-width="2.1" stroke-linejoin="round"/>
<polyline points="622.50,165.70 625.50,166.50 628.20,165.70" fill="none" stroke="#ff0000" stroke-width="2.1" stroke-linejoin="round"/>
<polyline points="634.40,165.10 637.20,165.90 640.00,166.90" fill="none" stroke="#ff0000" stroke-width="2.1" stroke-linejoin="round"/>
<polyline points="646.10,165.50 648.50,165.30 651.00,165.50" fill="none" stroke="#ff0000" stroke-width="2.1" stroke-linejoin="round"/>
<polyline points="656.10,166.00 659.00,165.30 661.70,164.80" fill="none" stroke="#ff0000" stroke-width="2.1" stroke-linejoin="round"/>
<polyline points="667.30,165.10 670.00,165.60 672.60,165.80" fill="none" stroke="#ff0000" stroke-width="2.1" stroke-linejoin="round"/>
<polyline points="678.20,164.80 680.60,165.80" fill="none" stroke="#ff0000" stroke-width="2.1" stroke-linejoin="round"/>
<polyline points="220.10,529.60 221.10,529.60 222.10,529.60 223.10,529.60 224.10,529.60 225.10,529.60 226.10,529.60 227.10,529.60 228.10,529.60 229.10,529.60 230.10,529.60 231.10,529.60 232.10,529.60 233.10,529.60 234.10,529.60 235.10,529.60 236.10,529.60 237.10,529.60 238.10,529.60 239.10,529.60 240.10,529.60 241.10,529.60 242.10,529.60 243.10,529.60 244.10,529.60 245.10,529.60 246.10,529.60 247.10,529.60 248.10,529.60 249.10,529.60 250.10,529.60 251.10,529.60 252.10,529.60 253.10,529.60 254.10,529.60 255.10,529.60 255.17,528.58 255.24,527.56 255.31,526.55 255.38,525.53 255.45,524.51 255.52,523.49 255.59,522.48 255.66,521.46 255.74,520.44 255.81,519.42 255.88,518.41 255.95,517.39 256.02,516.37 256.09,515.35 256.16,514.34 256.23,513.32 256.30,512.30 256.39,511.23 256.48,510.17 256.57,509.10 256.67,508.03 256.76,506.97 256.85,505.90 256.94,504.83 257.03,503.77 257.12,502.70 257.22,501.63 257.31,500.57 257.40,499.50 257.51,498.43 257.62,497.37 257.72,496.30 257.83,495.23 257.94,494.17 258.05,493.10 258.16,492.03 258.27,490.97 258.38,489.90 258.48,488.83 258.59,487.77 258.70,486.70 258.81,485.63 258.92,484.57 259.02,483.50 259.13,482.43 259.24,481.37 259.35,480.30 259.46,479.23 259.57,478.17 259.68,477.10 259.78,476.03 259.89,474.97 260.00,473.90 260.30,472.90 260.60,471.90 260.90,470.90 261.20,469.90 261.50,468.90 262.10,469.93 262.70,470.97 263.30,472.00 263.67,473.07 264.03,474.13 264.40,475.20 264.77,476.27 265.13,477.33 265.50,478.40 265.98,479.32 266.46,480.24 266.94,481.16 267.42,482.08 267.90,483.00 268.80,483.50 269.70,484.00 270.60,484.50 271.33,483.40 272.07,482.30 272.80,481.20 273.14,480.16 273.49,479.11 273.83,478.07 274.17,477.03 274.51,475.99 274.86,474.94 275.20,473.90 275.54,472.86 275.88,471.82 276.21,470.79 276.55,469.75 276.89,468.71 277.22,467.68 277.56,466.64 277.90,465.60 278.15,464.61 278.39,463.62 278.64,462.63 278.88,461.64 279.13,460.65 279.37,459.65 279.62,458.66 279.86,457.67 280.11,456.68 280.35,455.69 280.60,454.70 281.08,453.55 281.55,452.40 282.02,451.25 282.50,450.10 282.95,449.19 283.40,448.28 283.85,447.36 284.30,446.45 284.75,445.54 285.20,444.62 285.65,443.71 286.10,442.80 286.37,441.77 286.63,440.73 286.90,439.70 287.52,438.70 288.14,437.70 288.76,436.70 289.38,435.70 290.00,434.70 290.53,433.54 291.06,433.01 291.59,432.26 292.11,431.04 292.64,429.98 293.17,429.37 293.70,428.50 294.33,427.67 294.97,426.87 295.60,425.43 296.23,424.48 296.87,423.99 297.50,422.90 298.11,422.07 298.73,421.36 299.34,420.30 299.95,419.13 300.56,418.15 301.17,417.84 301.79,416.27 302.40,415.40 303.16,414.49 303.92,413.67 304.68,413.20 305.44,412.47 306.20,411.70 306.82,410.69 307.43,409.82 308.05,408.96 308.67,408.12 309.28,407.27 309.90,406.10 310.52,405.28 311.13,403.97 311.75,403.65 312.37,402.32 312.98,401.73 313.60,400.90 314.33,399.89 315.07,399.53 315.80,398.68 316.53,398.21 317.27,398.21 318.00,396.80 318.62,395.94 319.25,395.29 319.88,393.96 320.50,393.40 321.33,392.50 322.17,391.88 323.00,390.90 323.62,389.95 324.25,389.13 324.88,388.15 325.50,387.20 326.53,386.31 327.57,385.99 328.60,385.20 329.34,384.34 330.08,384.25 330.82,383.05 331.56,382.63 332.30,381.80 333.25,381.08 334.20,380.56 335.15,379.49 336.10,378.90 337.30,378.42 338.50,377.50 339.30,376.52 340.10,375.88 340.90,374.79 341.70,373.70 342.73,373.73 343.77,373.53 344.80,373.70 345.70,372.92 346.60,371.80 347.23,370.98 347.85,370.31 348.48,368.94 349.10,368.10 349.70,366.30 350.57,365.70 351.45,364.96 352.32,364.19 353.20,363.40 354.12,362.97 355.04,362.48 355.96,361.83 356.88,361.26 357.80,361.00 358.78,360.58 359.77,360.46 360.75,360.33 361.73,359.88 362.72,359.57 363.70,359.00 364.88,359.17 366.05,359.15 367.22,359.04 368.40,359.00 369.55,358.87 370.70,358.79 371.85,358.03 373.00,357.80 374.17,357.75 375.33,358.43 376.50,358.10 377.10,357.28 377.70,356.56 378.30,355.67 378.90,354.60 379.87,353.95 380.83,354.34 381.80,353.40 382.97,353.69 384.13,353.24 385.30,353.10 386.12,352.69 386.94,351.97 387.76,351.17 388.58,350.76 389.40,350.20 390.55,349.98 391.70,349.60 392.76,349.85 393.82,349.76 394.88,349.61 395.94,349.90 397.00,349.60 398.17,349.03 399.33,348.97 400.50,348.40 401.95,348.94 403.40,349.00 404.57,348.56 405.75,347.86 406.93,347.68 408.10,347.50 409.28,347.55 410.45,347.62 411.62,347.84 412.80,347.50 413.95,347.33 415.10,347.60 416.25,346.95 417.40,346.30 418.60,346.24 419.80,345.90 420.78,346.07 421.76,345.78 422.74,346.68 423.72,347.21 424.70,346.90 425.73,347.12 426.75,346.70 427.77,346.81 428.80,346.90 429.72,346.53 430.64,346.61 431.56,345.78 432.48,345.25 433.40,344.80 434.48,345.11 435.57,344.72 436.65,345.11 437.73,344.52 438.82,344.53 439.90,344.60 440.90,344.80 441.90,345.00 442.90,344.87 443.90,344.84 444.90,344.41 445.90,344.70 446.90,344.90 447.97,344.77 449.03,344.78 450.10,345.03 451.17,344.83 452.23,345.07 453.30,344.90 454.27,345.42 455.23,345.83 456.20,346.40 457.36,346.31 458.52,346.25 459.68,346.23 460.84,345.81 462.00,345.80 463.00,345.61 464.00,345.21 465.00,345.72 466.00,345.55 467.00,345.05 468.00,344.84 469.00,344.80 470.06,344.73 471.12,345.24 472.18,345.45 473.24,346.08 474.30,345.80 475.32,345.70 476.35,345.33 477.38,344.81 478.40,345.20 479.34,344.99 480.28,344.20 481.22,343.29 482.16,343.16 483.10,342.60 484.28,342.30 485.45,343.47 486.62,343.00 487.80,342.80 488.68,343.48 489.55,343.86 490.43,343.98 491.30,345.00 492.27,344.64 493.23,343.99 494.20,344.00" fill="none" stroke="#0072bd" stroke-width="2.1" stroke-linejoin="round" stroke-linecap="butt"/>
<rect x="258.6" y="9.8" width="43.00" height="18.60" fill="#fff" stroke="#262626" stroke-width="0.7"/>
<line x1="261.20" y1="14.90" x2="286.60" y2="14.90" stroke="#0000ff" stroke-width="2.1" />
<line x1="261.20" y1="23.20" x2="286.60" y2="23.20" stroke="#ff0000" stroke-width="2.1" stroke-dasharray="6.8 6.4"/>
<text x="288.36" y="17.90" font-size="7.20" fill="#1a1a1a" textLength="11.23" lengthAdjust="spacingAndGlyphs" class="s">Vrz</text>
<text x="288.36" y="26.30" font-size="7.20" fill="#1a1a1a" textLength="10.93" lengthAdjust="spacingAndGlyphs" class="s">Vrx</text>
<rect x="634.3" y="9.5" width="40.20" height="18.90" fill="#fff" stroke="#262626" stroke-width="0.7"/>
<line x1="637.10" y1="15.00" x2="662.20" y2="15.00" stroke="#0000ff" stroke-width="2.1" />
<line x1="637.10" y1="23.50" x2="662.20" y2="23.50" stroke="#ff0000" stroke-width="2.1" stroke-dasharray="6.8 6.4"/>
<text x="664.00" y="18.00" font-size="7.20" fill="#1a1a1a" textLength="7.35" lengthAdjust="spacingAndGlyphs" class="s">ez</text>
<text x="664.02" y="26.20" font-size="7.20" fill="#1a1a1a" textLength="7.08" lengthAdjust="spacingAndGlyphs" class="s">ex</text>
<text class="s" x="-27.70" y="0" font-size="8.3" fill="#1a1a1a" textLength="56.02" lengthAdjust="spacingAndGlyphs" transform="translate(6.50,111.75) rotate(-90)">Velocity [m/s]</text>
<text class="s" x="-20.31" y="0" font-size="8.3" fill="#1a1a1a" textLength="40.52" lengthAdjust="spacingAndGlyphs" transform="translate(387.40,111.55) rotate(-90)">Errors [m]</text>
<text class="s" x="-37.87" y="0" font-size="8.3" fill="#1a1a1a" textLength="76.35" lengthAdjust="spacingAndGlyphs" transform="translate(199.40,435.35) rotate(-90)">Attitude angle [deg]</text>
<text x="164.35" y="240.60" font-size="7.90" fill="#1a1a1a" textLength="13.68" lengthAdjust="spacingAndGlyphs" class="s">t[s]</text>
<text x="536.64" y="240.60" font-size="7.90" fill="#1a1a1a" textLength="13.79" lengthAdjust="spacingAndGlyphs" class="s">t[s]</text>
<text x="348.84" y="564.00" font-size="7.90" fill="#1a1a1a" textLength="17.01" lengthAdjust="spacingAndGlyphs" class="s">t [s]</text>
<text x="45.26" y="273.80" font-size="18.60" fill="#111" textLength="26.11" lengthAdjust="spacingAndGlyphs" >(a)</text>
<text x="78.36" y="273.80" font-size="18.60" fill="#111" textLength="33.68" lengthAdjust="spacingAndGlyphs" >The</text>
<text x="118.00" y="273.80" font-size="18.60" fill="#111" textLength="82.00" lengthAdjust="spacingAndGlyphs" >estimated</text>
<text x="207.75" y="273.80" font-size="18.60" fill="#111" textLength="76.91" lengthAdjust="spacingAndGlyphs" >velocities</text>
<text x="405.84" y="274.00" font-size="18.60" fill="#111" textLength="26.55" lengthAdjust="spacingAndGlyphs" >(b)</text>
<text x="439.46" y="274.00" font-size="18.60" fill="#111" textLength="33.68" lengthAdjust="spacingAndGlyphs" >The</text>
<text x="479.76" y="274.00" font-size="18.60" fill="#111" textLength="61.58" lengthAdjust="spacingAndGlyphs" >relative</text>
<text x="547.53" y="274.00" font-size="18.60" fill="#111" textLength="67.33" lengthAdjust="spacingAndGlyphs" >position</text>
<text x="621.12" y="274.00" font-size="18.60" fill="#111" textLength="47.69" lengthAdjust="spacingAndGlyphs" >errors</text>
<text x="205.87" y="596.80" font-size="18.60" fill="#111" textLength="24.83" lengthAdjust="spacingAndGlyphs" >(c)</text>
<text x="237.86" y="596.80" font-size="18.60" fill="#111" textLength="34.00" lengthAdjust="spacingAndGlyphs" >The</text>
<text x="278.03" y="596.80" font-size="18.60" fill="#111" textLength="67.15" lengthAdjust="spacingAndGlyphs" >attitude</text>
<text x="352.02" y="596.80" font-size="18.60" fill="#111" textLength="44.69" lengthAdjust="spacingAndGlyphs" >angle</text>
<text x="402.70" y="596.80" font-size="18.60" fill="#111" textLength="17.58" lengthAdjust="spacingAndGlyphs" >of</text>
<text x="426.50" y="596.80" font-size="18.60" fill="#111" textLength="68.90" lengthAdjust="spacingAndGlyphs" >Follower</text>
</svg>
</body></html>
